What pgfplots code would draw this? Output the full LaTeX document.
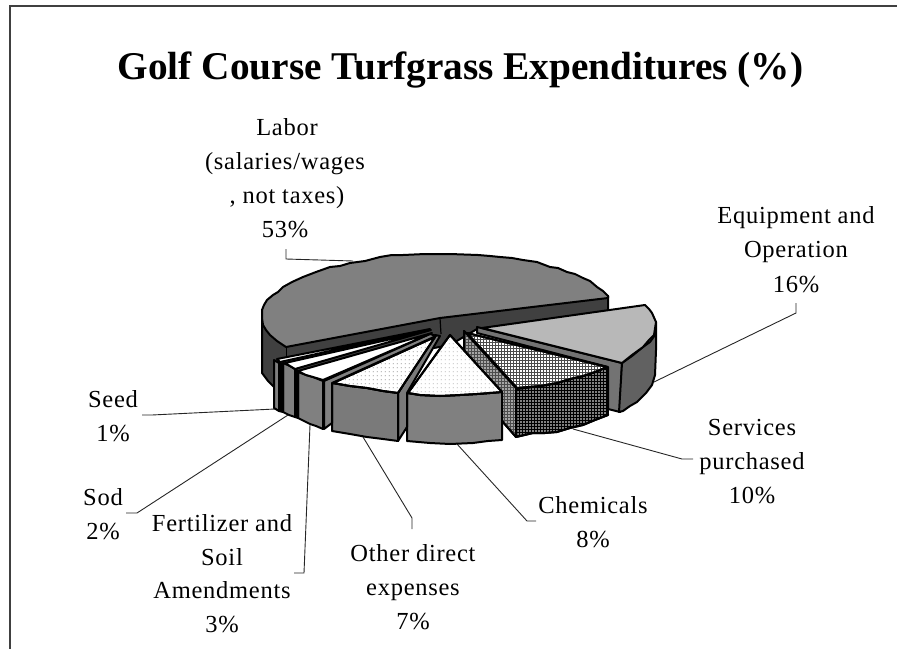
\documentclass[border=0pt]{standalone}
\usepackage{fontspec}
\setmainfont{Liberation Serif}
\newfontfamily\lblfont[LetterSpace=3]{Liberation Serif}
\usepackage{pgfplots}
\pgfplotsset{compat=1.18}
\usetikzlibrary{patterns}
\pgfdeclarepatternformonly{fgrid}{\pgfqpoint{-0.5bp}{-0.5bp}}{\pgfqpoint{3bp}{3bp}}{\pgfqpoint{3bp}{3bp}}{%
  \pgfsetlinewidth{1bp}
  \pgfpathmoveto{\pgfqpoint{0bp}{0bp}}\pgfpathlineto{\pgfqpoint{3bp}{0bp}}
  \pgfpathmoveto{\pgfqpoint{0bp}{0bp}}\pgfpathlineto{\pgfqpoint{0bp}{3bp}}
  \pgfusepath{stroke}}
\pgfdeclarepatternformonly{fdots}{\pgfqpoint{0bp}{0bp}}{\pgfqpoint{4bp}{4bp}}{\pgfqpoint{4bp}{4bp}}{%
  \pgfpathrectangle{\pgfqpoint{1bp}{1bp}}{\pgfqpoint{1bp}{1bp}}\pgfusepath{fill}}
\newcommand{\lbl}[3]{\node[anchor=base,inner sep=0pt,font=\lblfont\fontsize{24.5bp}{28bp}\selectfont] at (axis cs:#1,#2) {#3};}
\pgfplotsset{
  face/.style={draw=black,line width=2bp,line join=round,fill=#1},
  leader/.style={draw=black!85,line width=0.9bp,line join=miter},
}
\begin{document}
\begin{tikzpicture}
\begin{axis}[
  scale only axis,width=897bp,height=649bp,
  xmin=0,xmax=897,ymin=0,ymax=649,y dir=reverse,
  hide axis,clip=true]
% frame
\addplot[draw=black!75,line width=2bp] coordinates {(10,649)(10,6.5)(897,6.5)};
% leaders
\addplot[leader] coordinates {(286,249)(286,259)(353,261)};
\addplot[leader] coordinates {(796,303)(796,313)(654,382)};
\addplot[leader] coordinates {(573,429)(682,459)(693,459)};
\addplot[leader] coordinates {(457,444)(527,521)(536,521)};
\addplot[leader] coordinates {(363,437)(412,518)(412,529)};
\addplot[leader] coordinates {(310,425)(304,573)(294,573)};
\addplot[leader] coordinates {(288,415)(137,513)(126,513)};
\addplot[leader] coordinates {(275,409)(152,415)(142,415)};
% Labor 53%: wall and top
\addplot[face={black!75}] coordinates {(262,312)(262,373)(268,381)(275,388)(290,375)(450,345)(477,329)(608,311)(608,296)} -- cycle;
\addplot[draw=black,line width=1.2bp] coordinates {(440,318)(441,334)};
\addplot[draw=black,line width=1bp] coordinates {(286,347)(286,361)};
\addplot[face={black!50}] coordinates {(608,296)(603,291)(597,287)(590,281)(583,278)(575,274)(567,272)(558,268)(550,267)(537,262)(523,260)(512,258)(500,257)(490,256)(478,255)(450,254)(425,254)(403,255)(392,255)(380,257)(365,261)(350,263)(340,266)(330,267)(316,272)(303,277)(292,282)(283,287)(278,292)(273,295)(267,300)(264,305)(262,310)(262,318)(263,325)(266,330)(270,335)(277,341)(286,347)(440,318)(608,298)} -- cycle;
% Equipment 16%
\addplot[face={black!55}] coordinates {(477,327)(622,363)(620,412)(608,409)(608,367)(477,333)} -- cycle;
\addplot[face={black!62}] coordinates {(622,363)(632,356)(643,347)(650,342)(655,335)(656,322)(656,350)(655,375)(652,385)(646,393)(637,402)(630,406)(623,411)(619,412)} -- cycle;
\addplot[face={black!28}] coordinates {(482,328)(645,305)(649,309)(652,313)(656,322)(654,335)(649,340)(643,347)(632,355)(622,363)} -- cycle;
% Services purchased 10%
\addplot[face={black!35},postaction={pattern=fgrid,pattern color=black!70}] coordinates {(464,331)(517,389)(516,437)(502,421)(464,350)} -- cycle;
\addplot[face={black!50},postaction={pattern=fgrid,pattern color=black}] coordinates {(516,389)(540,386)(557,383)(570,379)(583,376)(595,372)(607,367)(608,415)(595,420)(583,425)(570,428)(557,432)(545,433)(533,433)(516,437)} -- cycle;
\addplot[face={white},postaction={pattern=fgrid,pattern color=black!70}] coordinates {(467,333)(607,367)(595,372)(583,376)(570,379)(557,383)(540,386)(517,388)} -- cycle;
% Chemicals 8%
\addplot[face={black!50}] coordinates {(407,393)(420,395)(440,396)(460,395)(477,394)(490,393)(502,392)(502,440)(488,441)(473,443)(450,444)(430,443)(407,441)} -- cycle;
\addplot[face={white},postaction={pattern=fdots,pattern color=black!40}] coordinates {(450,335)(502,392)(490,393)(477,394)(460,395)(440,396)(420,395)(408,393)} -- cycle;
% Other direct expenses 7%
\addplot[face={black!52}] coordinates {(440,336)(407,393)(407,427)(398,441)(398,393)(435,335)} -- cycle;
\addplot[face={black!52}] coordinates {(332,383)(350,386)(367,388)(383,391)(398,393)(398,441)(383,439)(367,437)(350,434)(332,431)} -- cycle;
\addplot[face={white},postaction={pattern=fdots,pattern color=black!60}] coordinates {(435,337)(398,393)(383,391)(367,388)(350,386)(333,383)} -- cycle;
% Fertilizer and Soil Amendments 3%
\addplot[face={black!50}] coordinates {(324,381)(430,334)(436,336)(332,383)(332,423)(324,429)} -- cycle;
\addplot[face={black!50}] coordinates {(298,372)(306,375)(313,377)(323,381)(323,429)(316,426)(310,424)(304,421)(298,418)} -- cycle;
\addplot[face={white}] coordinates {(432,333)(323,380)(313,377)(306,375)(298,371)} -- cycle;
% Sod 2%
\addplot[face={black}] coordinates {(295,369)(298,371)(298,418)(295,417)} -- cycle;
\addplot[face={black!50}] coordinates {(283,363)(290,366)(295,369)(295,417)(289,415)(283,412)} -- cycle;
\addplot[face={white}] coordinates {(431,330)(295,369)(285,363)} -- cycle;
% Seed 1%
\addplot[face={black}] coordinates {(279,363)(283,364)(283,412)(279,411)} -- cycle;
\addplot[face={black!50}] coordinates {(274,360)(279,363)(279,411)(274,408)} -- cycle;
\addplot[face={white}] coordinates {(430,329)(280,362)(277,359)} -- cycle;
% text
\node[anchor=base,inner sep=0pt,font=\fontsize{39.3bp}{44bp}\selectfont\bfseries] at (axis cs:460.5,80) {Golf Course Turfgrass Expenditures (\%)};
\lbl{287}{135}{Labor}
\lbl{285}{169}{(salaries/wages}
\lbl{287}{203}{, not taxes)}
\lbl{285}{237}{53\%}
\lbl{796}{223}{Equipment and}
\lbl{796}{257}{Operation}
\lbl{796}{292}{16\%}
\lbl{752}{435}{Services}
\lbl{752}{469}{purchased}
\lbl{752}{503}{10\%}
\lbl{593}{513}{Chemicals}
\lbl{593}{547}{8\%}
\lbl{413}{561}{Other direct}
\lbl{413}{595}{expenses}
\lbl{413}{629}{7\%}
\lbl{222}{531}{Fertilizer and}
\lbl{222}{565}{Soil}
\lbl{222}{598}{Amendments}
\lbl{222}{632}{3\%}
\lbl{103}{505}{Sod}
\lbl{103}{539}{2\%}
\lbl{113}{407}{Seed}
\lbl{113}{441}{1\%}
\end{axis}
\pgfresetboundingbox
\path[use as bounding box] (0,0) rectangle (897bp,649bp);
\end{tikzpicture}
\end{document}
